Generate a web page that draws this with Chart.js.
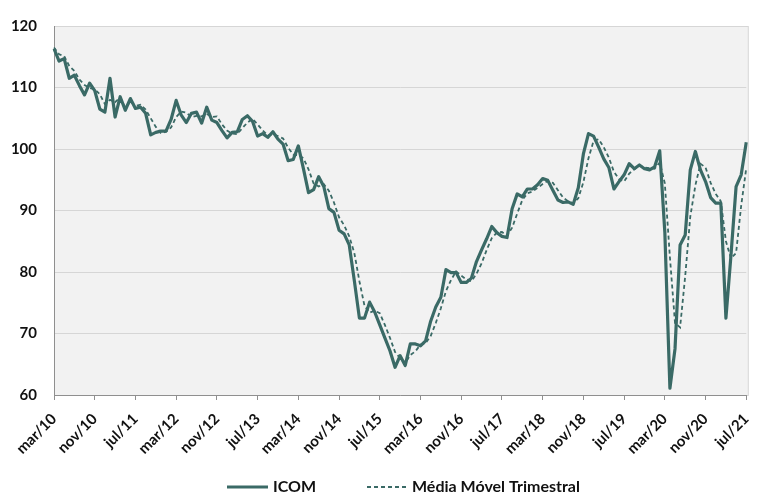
<!DOCTYPE html>
<html>
<head>
<meta charset="utf-8">
<script src="https://cdn.jsdelivr.net/npm/chart.js@4.4.1/dist/chart.umd.min.js"></script>
<style>
html,body{margin:0;padding:0;background:#ffffff;}
#wrap{width:769px;height:494px;position:relative;}
</style>
</head>
<body>
<div id="wrap"><canvas id="c" width="769" height="494"></canvas></div>
<script>
// ---- data ----
const monthNames = ['jan','fev','mar','abr','mai','jun','jul','ago','set','out','nov','dez'];
const startYear = 2010;
const startMonthIndex = 2; // mar
const tickLabels = ['mar/10','nov/10','jul/11','mar/12','nov/12','jul/13','mar/14','nov/14','jul/15',
  'mar/16','nov/16','jul/17','mar/18','nov/18','jul/19','mar/20','nov/20','jul/21'];
const tickEvery = 8;

const icom = [
  116.3,114.3,114.7,111.5,112.0,110.3,108.8,110.7,109.5,106.5,
  106.0,111.5,105.2,108.5,106.3,108.2,106.6,106.8,105.8,102.3,
  102.7,102.9,102.9,104.8,107.9,105.5,104.3,105.8,106.0,104.2,
  106.8,104.7,104.3,103.0,101.8,102.7,102.8,104.8,105.4,104.5,
  102.1,102.5,101.9,102.8,101.6,100.8,98.1,98.3,100.5,96.8,
  92.9,93.4,95.5,93.9,90.3,89.7,86.8,86.2,84.4,78.6,
  72.5,72.5,75.1,73.5,71.4,69.3,67.2,64.5,66.4,64.8,
  68.3,68.3,68.0,68.8,72.0,74.3,75.9,80.4,79.9,79.9,
  78.3,78.3,79.0,81.7,83.6,85.4,87.4,86.4,85.8,85.6,
  90.3,92.7,92.2,93.5,93.5,94.2,95.2,94.9,93.3,91.7,
  91.3,91.4,91.0,93.7,99.2,102.5,102.1,100.3,98.4,97.0,
  93.5,94.7,95.8,97.6,96.8,97.4,96.8,96.6,97.1,99.7,
  86.5,61.1,67.5,84.4,86.0,96.6,99.6,96.6,94.7,92.1,
  91.2,91.2,72.5,82.8,93.9,95.8,101.1
];
const mediaMovel = [
  116.5,115.4,115.1,113.5,112.7,111.3,110.4,109.9,109.7,108.9,
  107.3,108.0,107.6,108.4,106.7,107.7,107.0,107.2,106.4,105.0,
  103.6,102.6,102.8,103.5,105.2,106.1,105.9,105.2,105.4,105.3,
  105.7,105.2,105.3,104.0,103.0,102.5,102.4,103.4,104.3,104.9,
  104.0,103.0,102.2,102.4,102.1,101.7,100.2,99.1,99.0,98.5,
  96.7,94.4,93.9,94.3,93.2,91.3,88.9,87.6,85.8,83.1,
  78.5,74.5,73.4,73.7,73.3,71.4,69.3,67.0,66.0,65.2,
  66.5,67.1,68.2,68.4,69.6,71.7,74.1,76.9,78.7,80.1,
  79.4,78.8,78.5,79.7,81.4,83.6,85.5,86.4,86.5,85.9,
  87.2,89.5,91.7,92.8,93.1,93.7,94.3,94.8,94.5,93.3,
  92.1,91.5,91.2,92.0,94.6,98.5,101.3,101.6,100.3,98.6,
  96.3,95.1,94.7,96.0,96.7,97.3,97.0,96.9,96.8,97.8,
  94.4,82.4,71.7,71.0,79.3,89.0,94.1,97.6,97.0,94.5,
  92.7,91.5,85.0,82.2,83.1,90.8,96.9
];

const categories = [];
for (let i = 0; i < icom.length; i++) {
  const m = (startMonthIndex + i) % 12;
  const y = startYear + Math.floor((startMonthIndex + i) / 12);
  categories.push(monthNames[m] + '/' + String(y).slice(2));
}

// ---- style ----
const lineColor = '#3a6a66';
const axisColor = '#8f8f8f';
const gridColor = '#d6d6d6';
const plotBg = '#f2f2f2';
const textColor = '#111111';
const fontFamily = 'Lato, "Open Sans", "DejaVu Sans", sans-serif';

const plotBackground = {
  id: 'plotBackground',
  beforeDraw(chart) {
    const {ctx, chartArea: a} = chart;
    ctx.save();
    ctx.fillStyle = plotBg;
    ctx.fillRect(a.left, a.top, a.right - a.left + 2, a.bottom - a.top);
    ctx.strokeStyle = gridColor;
    ctx.lineWidth = 1;
    ctx.strokeRect(a.left + 0.5, a.top + 0.5, a.right - a.left + 1.5, a.bottom - a.top);
    ctx.restore();
  }
};

const bottomLegend = {
  id: 'bottomLegend',
  afterDraw(chart) {
    const ctx = chart.ctx;
    const ds = chart.data.datasets;
    const yMid = 487;
    const items = [
      {x0: 227, x1: 268, tx: 273, d: ds[0]},
      {x0: 367, x1: 408, tx: 412, d: ds[1]}
    ];
    ctx.save();
    ctx.font = 'bold 16px ' + fontFamily;
    ctx.textBaseline = 'middle';
    ctx.textAlign = 'left';
    items.forEach(it => {
      ctx.beginPath();
      ctx.strokeStyle = it.d.borderColor;
      ctx.lineWidth = it.d.borderWidth;
      ctx.setLineDash(it.d.borderDash || []);
      ctx.moveTo(it.x0, yMid);
      ctx.lineTo(it.x1, yMid);
      ctx.stroke();
      ctx.setLineDash([]);
      ctx.fillStyle = textColor;
      ctx.fillText(it.d.label, it.tx, yMid);
    });
    ctx.restore();
  }
};

new Chart(document.getElementById('c'), {
  type: 'line',
  data: {
    labels: categories,
    datasets: [
      {
        label: 'ICOM',
        data: icom,
        borderColor: lineColor,
        borderWidth: 3.2,
        pointRadius: 0,
        tension: 0,
        borderJoinStyle: 'round',
        fill: false
      },
      {
        label: 'Média Móvel Trimestral',
        data: mediaMovel,
        borderColor: lineColor,
        borderWidth: 1.8,
        borderDash: [4, 3],
        pointRadius: 0,
        tension: 0,
        fill: false
      }
    ]
  },
  options: {
    responsive: false,
    animation: false,
    devicePixelRatio: 1,
    layout: {padding: {top: 19, right: 3, bottom: 39, left: 0}},
    plugins: {
      legend: {display: false},
      tooltip: {enabled: false}
    },
    scales: {
      x: {
        type: 'category',
        offset: false,
        grid: {
          drawOnChartArea: false,
          drawTicks: true,
          tickLength: 5,
          color: (c) => (c.index % tickEvery === 0 ? axisColor : 'rgba(0,0,0,0)')
        },
        border: {display: true, color: axisColor, width: 1},
        ticks: {
          autoSkip: false,
          maxRotation: 45,
          minRotation: 45,
          padding: 10,
          color: textColor,
          font: {family: fontFamily, weight: 'bold', size: 15},
          callback: (v, i) => (i % tickEvery === 0 ? tickLabels[i / tickEvery] : '')
        },
        afterFit: (s) => { s.height = 60; }
      },
      y: {
        min: 60,
        max: 120,
        grid: {color: gridColor, drawTicks: false, lineWidth: 1},
        border: {display: true, color: axisColor, width: 1},
        ticks: {
          stepSize: 10,
          padding: 17,
          color: textColor,
          font: {family: fontFamily, weight: 'bold', size: 15}
        },
        afterFit: (s) => { s.width = 54; }
      }
    }
  },
  plugins: [plotBackground, bottomLegend]
});
</script>
</body>
</html>
